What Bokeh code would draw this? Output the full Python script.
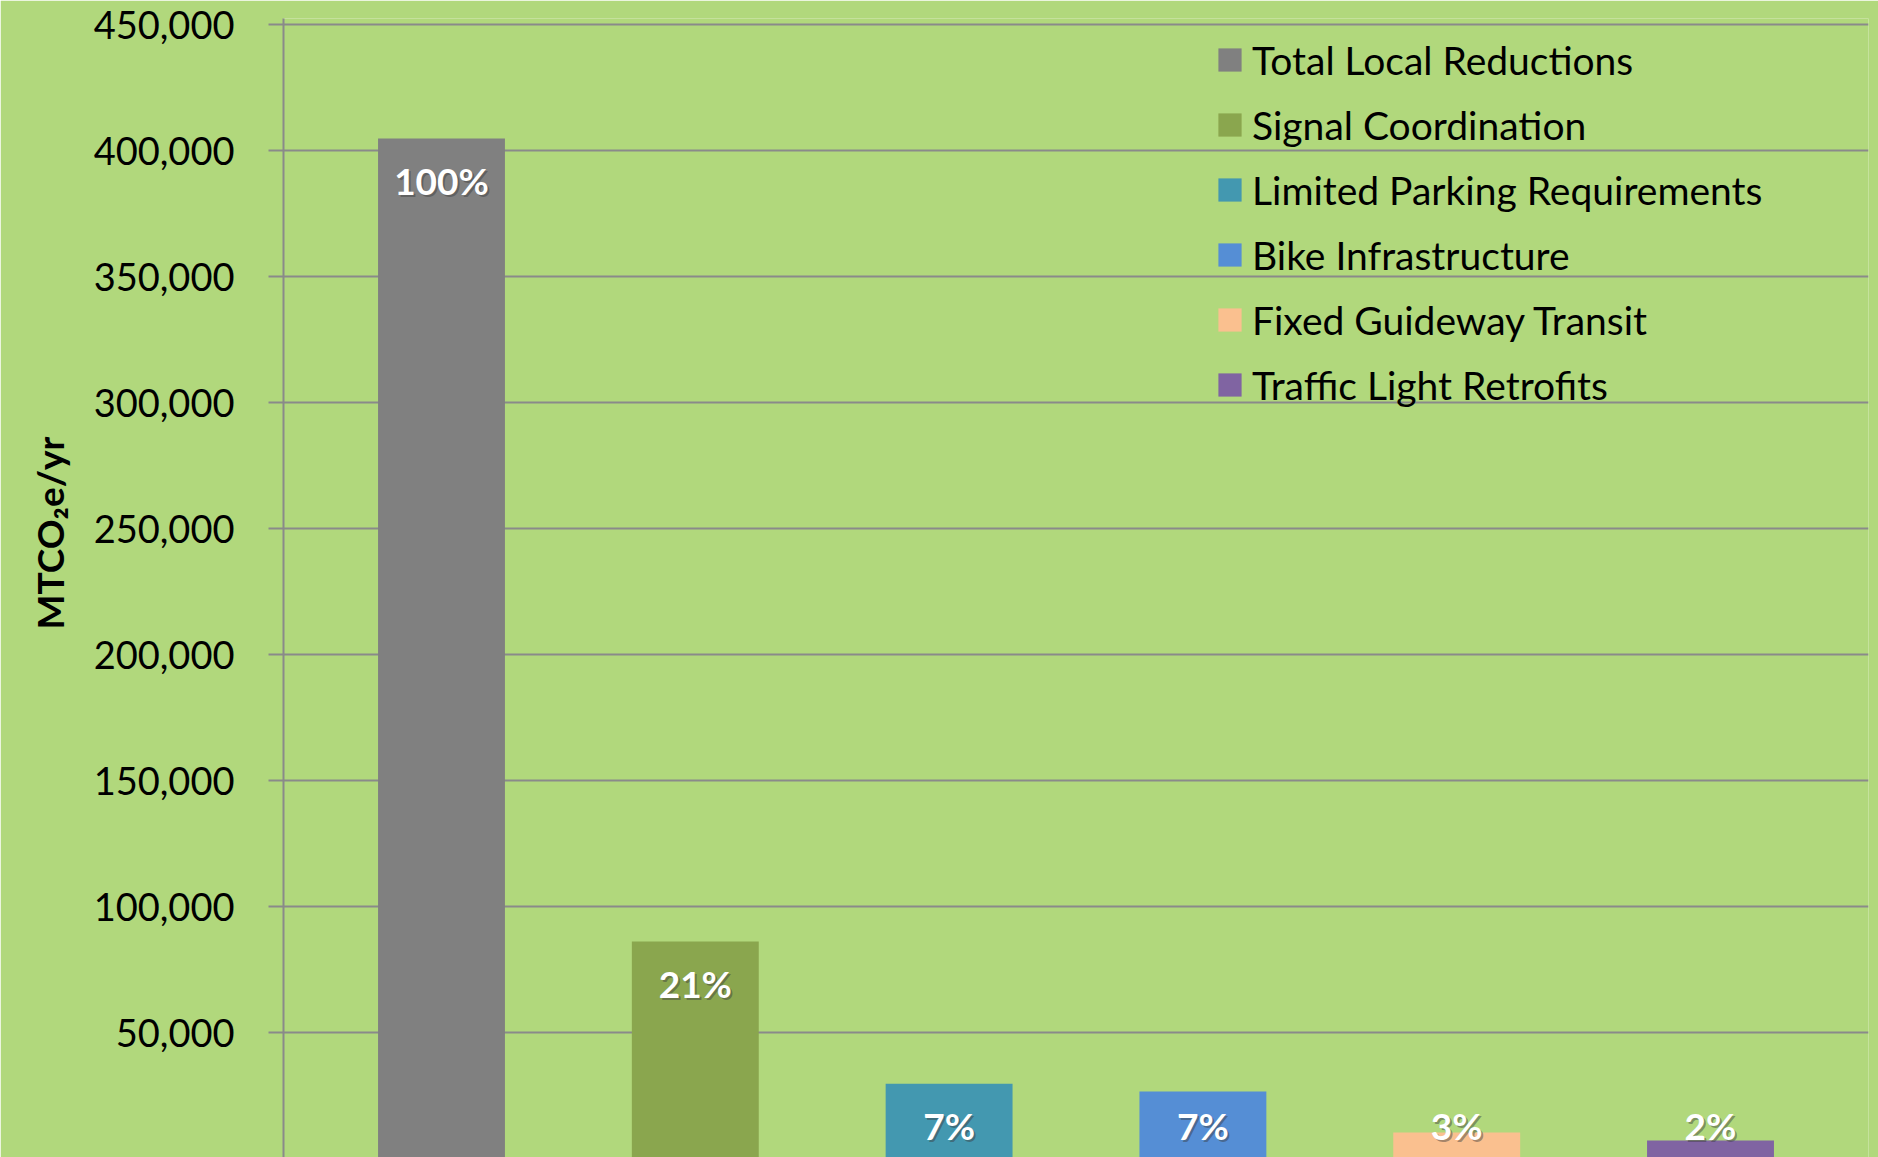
import math
from bokeh.plotting import figure
from bokeh.models import (ColumnDataSource, FactorRange, FixedTicker, NumeralTickFormatter,
                          Title, Legend, LegendItem)
from bokeh.core.properties import value
from bokeh.embed import file_html
from bokeh.resources import INLINE

# ---- data ----
categories = ["Total Local Reductions", "Signal Coordination", "Limited Parking Requirements",
              "Bike Infrastructure", "Fixed Guideway Transit", "Traffic Light Retrofits"]
values = [404800, 86100, 29700, 26600, 10300, 7100]
percent_labels = ["100%", "21%", "7%", "7%", "3%", "2%"]
colors = ["#808080", "#8AA64E", "#4398B0", "#558ED5", "#FAC08F", "#8064A2"]
y_ticks = [0, 50000, 100000, 150000, 200000, 250000, 300000, 350000, 400000, 450000]

BG = "#B1D87C"
GRID = "#8A8A8A"
FONT = "Lato"

W, H = 1878, 1157
TOP = 18
px_per_unit = 50000 / 126.0           # data units per pixel
y_end = 450000 + (24 - TOP) * px_per_unit
y_start = y_end - (H - TOP) * px_per_unit

# label positions derived from values
label_y = [max(v - 42 * px_per_unit, 13100) for v in values]

src = ColumnDataSource(dict(cat=categories, val=values, col=colors,
                            lab=percent_labels, ly=label_y))

xr = FactorRange(*categories, range_padding=0.1225, range_padding_units="absolute")
p = figure(width=W, height=H, x_range=xr, y_range=(y_start, y_end),
           output_backend="svg", toolbar_location=None,
           background_fill_color=BG, border_fill_color=BG,
           min_border_left=283, min_border_right=10, min_border_top=TOP, min_border_bottom=0)
p.outline_line_color = None

r = p.vbar(x="cat", top="val", bottom=0, width=0.5, color="col", line_color=None, source=src)

# data labels with soft shadow
p.text(x="cat", y="ly", text="lab", source=src, x_offset=2, y_offset=2,
       text_color="#3a3a3a", text_alpha=0.45, text_font=value(FONT), text_font_style="bold",
       text_font_size="37px", text_align="center", text_baseline="middle")
p.text(x="cat", y="ly", text="lab", source=src,
       text_color="white", text_font=value(FONT), text_font_style="bold",
       text_font_size="37px", text_align="center", text_baseline="middle")

# axes
p.xaxis.visible = False
p.xgrid.visible = False
yax = p.yaxis[0]
yax.ticker = FixedTicker(ticks=y_ticks)
yax.formatter = NumeralTickFormatter(format="0,0")
yax.axis_line_color = GRID
yax.axis_line_width = 2
yax.major_tick_line_color = GRID
yax.major_tick_line_width = 2
yax.major_tick_out = 15
yax.major_tick_in = 0
yax.minor_tick_line_color = None
yax.major_label_standoff = 34
yax.major_label_text_font = FONT
yax.major_label_text_font_size = "38px"
yax.major_label_text_color = "black"
p.ygrid.ticker = FixedTicker(ticks=y_ticks)
p.ygrid.grid_line_color = GRID
p.ygrid.grid_line_width = 2

# y-axis title
ytitle = Title(text="MTCO\u2082e/yr", align="left", offset=528, standoff=37,
               text_font=FONT, text_font_style="bold", text_font_size="37px",
               text_color="black", background_fill_color=None, border_line_color=None)
p.add_layout(ytitle, "left")

# legend
items = [LegendItem(label=c, renderers=[r], index=i) for i, c in enumerate(categories)]
leg = Legend(items=items, location=(1215 - 283, H - 417), orientation="vertical",
             glyph_width=29, glyph_height=29, label_standoff=8, label_height=65,
             spacing=0, padding=0, margin=0, border_line_color=None,
             background_fill_alpha=0, label_text_font=FONT, label_text_font_size="39px",
             label_text_color="black", label_text_baseline="middle")
p.add_layout(leg)

html = file_html(p, INLINE)
open("out.html", "w").write(html)
